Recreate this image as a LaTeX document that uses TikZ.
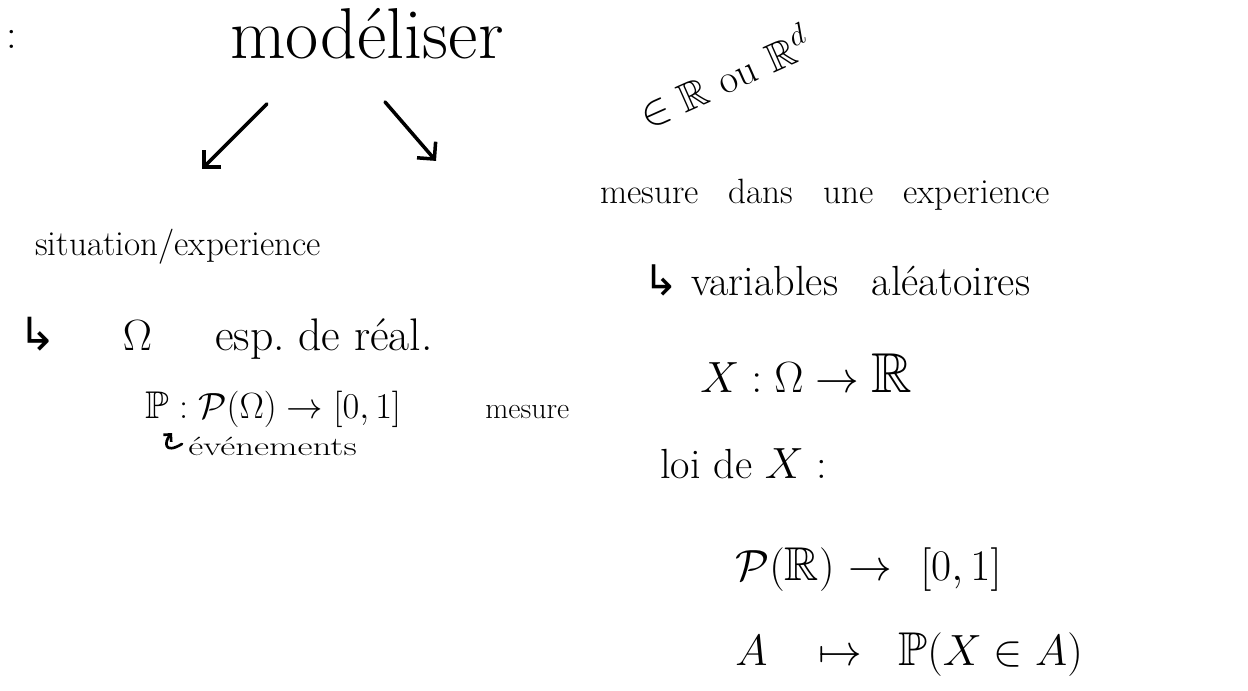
\documentclass[tikz,border=0pt]{standalone}
\usepackage{amsmath}
\usepackage{amssymb}
\usepackage{fontspec}
\usetikzlibrary{arrows.meta, calc}
\newfontfamily\symbfont{DejaVu Sans}
\newcommand{\hookarr}{{\symbfont ↳}}

\begin{document}
\begin{tikzpicture}[x=0.02cm, y=-0.02cm, line cap=round]
\tikzset{
  note/.style={inner sep=0, anchor=base west, font=\fontsize{20}{24}\selectfont},
  barb/.style={-{Straight Barb[length=7pt, width=14pt]}, line width=2pt},
}
\useasboundingbox (0,0) rectangle (1248,690);

\node[note, font=\fontsize{24}{28}\selectfont] (colon) at (6,48) {:};
\node[note, font=\fontsize{41}{48}\selectfont] (model) at (230,58) {modéliser};

% the two branches
\draw[barb] ($(model.south west)+(37,45)$) -- ++(-65,65);
\draw[barb] ($(model.south west)+(155,43)$) -- ++(51,59);

% left: the experiment
\node[note, font=\fontsize{20}{24}\selectfont] (situ) at (35,255) {situation/experience};
\node[note, font=\fontsize{26}{30}\selectfont] (omega) at (18,350) {\hookarr\hspace{1.45em}$\Omega$\hspace{1.38em}esp.\ de réal.};
\node[note, font=\fontsize{22}{26}\selectfont] (proba) at (145,418) {$\mathbb{P} : \mathcal{P}(\Omega) \to [0,1]$};
\node[note, font=\fontsize{17}{20}\selectfont] (mesA) at (485,418) {mesure};
\node[note, font=\fontsize{15}{18}\selectfont] (event) at (188,455) {\scalebox{1.4}[1]{événements}};
\coordinate (evtip) at (172,433);
\draw[-{Straight Barb[length=3pt, width=6pt]}, line width=1.5pt]
  (event.west) ++(-6,-2) .. controls (164,455) and (164,442) .. (evtip);

% right: the measurement
\node[note, rotate=24, font=\fontsize{23}{27}\selectfont] (rset) at (647,130) {$\in\mathbb{R}$\hspace{0.35em}ou\hspace{0.35em}$\mathbb{R}^d$};
\node[note] (mes) at (600,203) {mesure\hspace{0.85em}dans\hspace{0.85em}une\hspace{0.85em}experience};
\node[note, font=\fontsize{24}{28}\selectfont] (va) at (643,295) {\hookarr\hspace{0.3em}variables\hspace{0.8em}aléatoires};
\node[note, font=\fontsize{32}{37}\selectfont] (xmap) at (700,392) {$X : \Omega \to \mathbb{R}$};
\node[note, font=\fontsize{24}{28}\selectfont] (loi) at (660,478) {loi de $X$ :};

\node[note, font=\fontsize{27}{31}\selectfont] (powR) at (735,580) {$\mathcal{P}(\mathbb{R})$};
\node[note, font=\fontsize{27}{31}\selectfont] (arrR) at (848,580) {$\to$};
\node[note, font=\fontsize{27}{31}\selectfont] (unitI) at (920,580) {$[0,1]$};
\node[note, font=\fontsize{27}{31}\selectfont] (setA) at (735,665) {$A$};
\node[note, font=\fontsize{27}{31}\selectfont] (mapsA) at (818,665) {$\mapsto$};
\node[note, font=\fontsize{27}{31}\selectfont] (probXA) at (898,665) {$\mathbb{P}(X \in A)$};
\end{tikzpicture}
\end{document}
